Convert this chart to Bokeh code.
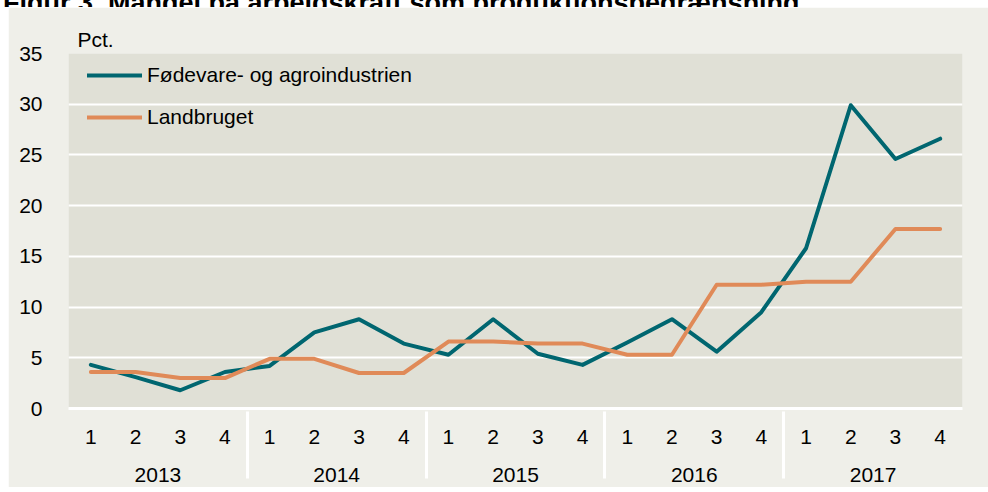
from bokeh.plotting import figure
from bokeh.models import (FactorRange, Range1d, FixedTicker, Legend, LegendItem,
                          ColumnDataSource, Div)
from bokeh.layouts import column
from bokeh.embed import file_html
from bokeh.resources import INLINE

title_text = "Figur 3. Mangel på arbejdskraft som produktionsbegrænsning"
years = ["2013", "2014", "2015", "2016", "2017"]
quarters = ["1", "2", "3", "4"]
fodevare = [4.3, 3.1, 1.8, 3.6, 4.2, 7.5, 8.8, 6.4, 5.3, 8.8, 5.4, 4.3,
            6.5, 8.8, 5.6, 9.5, 15.8, 29.9, 24.6, 26.6]
landbruget = [3.6, 3.6, 3.0, 3.0, 4.9, 4.9, 3.5, 3.5, 6.6, 6.6, 6.4, 6.4,
              5.3, 5.3, 12.2, 12.2, 12.5, 12.5, 17.7, 17.7]
y_ticks = [0, 5, 10, 15, 20, 25, 30, 35]

factors = [(y, q) for y in years for q in quarters]
src = ColumnDataSource(dict(x=factors, a=fodevare, b=landbruget))

FONT = "Liberation Sans"
FS = "21px"
p = figure(width=980, height=480, output_backend="svg", toolbar_location=None,
           x_range=FactorRange(factors=factors, group_padding=0, range_padding=0,
                               factor_padding=0, subgroup_padding=0),
           y_range=Range1d(0, 35),
           min_border_left=60, min_border_right=26, min_border_top=46, min_border_bottom=79,
           title="Pct.")
p.margin = (0, 0, 0, 8)
p.border_fill_color = "#EFEFE9"
p.background_fill_color = "#E0E0D6"
p.outline_line_color = None

p.title.text_font = FONT
p.title.text_font_size = FS
p.title.text_font_style = "normal"
p.title.text_color = "#000000"
p.title.align = "left"
p.title.offset = 9
p.title.standoff = 6

l1 = p.line("x", "a", source=src, line_color="#006670", line_width=4,
            line_cap="round", line_join="round")
l2 = p.line("x", "b", source=src, line_color="#E08A58", line_width=4,
            line_cap="round", line_join="round")

legend = Legend(items=[LegendItem(label="Fødevare- og agroindustrien", renderers=[l1]),
                       LegendItem(label="Landbruget", renderers=[l2])],
                location=(19, 279), margin=0, padding=0, spacing=18,
                glyph_width=55, glyph_height=22, label_height=22, label_standoff=5,
                background_fill_alpha=0, border_line_color=None,
                label_text_font=FONT, label_text_font_size=FS, label_text_color="#000000")
p.add_layout(legend)

p.xgrid.grid_line_color = None
p.ygrid.grid_line_color = "white"
p.ygrid.grid_line_width = 2

p.yaxis.ticker = FixedTicker(ticks=y_ticks)
p.yaxis.axis_line_color = None
p.yaxis.major_tick_line_color = None
p.yaxis.minor_tick_line_color = None
p.yaxis.major_label_text_font = FONT
p.yaxis.major_label_text_font_size = FS
p.yaxis.major_label_text_color = "#000000"
p.yaxis.major_label_standoff = 20

xa = p.xaxis[0]
xa.axis_line_color = "white"
xa.axis_line_width = 3
xa.major_tick_line_color = None
xa.minor_tick_line_color = None
xa.major_tick_out = -5
xa.major_tick_in = 0
xa.major_label_text_font = FONT
xa.major_label_text_font_size = FS
xa.major_label_text_color = "#000000"
xa.major_label_standoff = 21
xa.group_text_font = FONT
xa.group_text_font_size = FS
xa.group_text_font_style = "normal"
xa.group_text_color = "#000000"
xa.separator_line_color = "white"
xa.separator_line_width = 3

div = Div(text=('<div style="font-family: \'Liberation Sans\'; font-weight: bold; '
                'font-size: 27px; line-height: 27px; margin-top: -19px; margin-left: 3px; '
                'white-space: nowrap; color: #000;">' + title_text + '</div>'),
          width=988, height=7, margin=(0, 0, 0, 0), styles={"overflow": "hidden"})

layout = column(div, p, spacing=0)
open("out.html", "w").write(file_html(layout, INLINE))
